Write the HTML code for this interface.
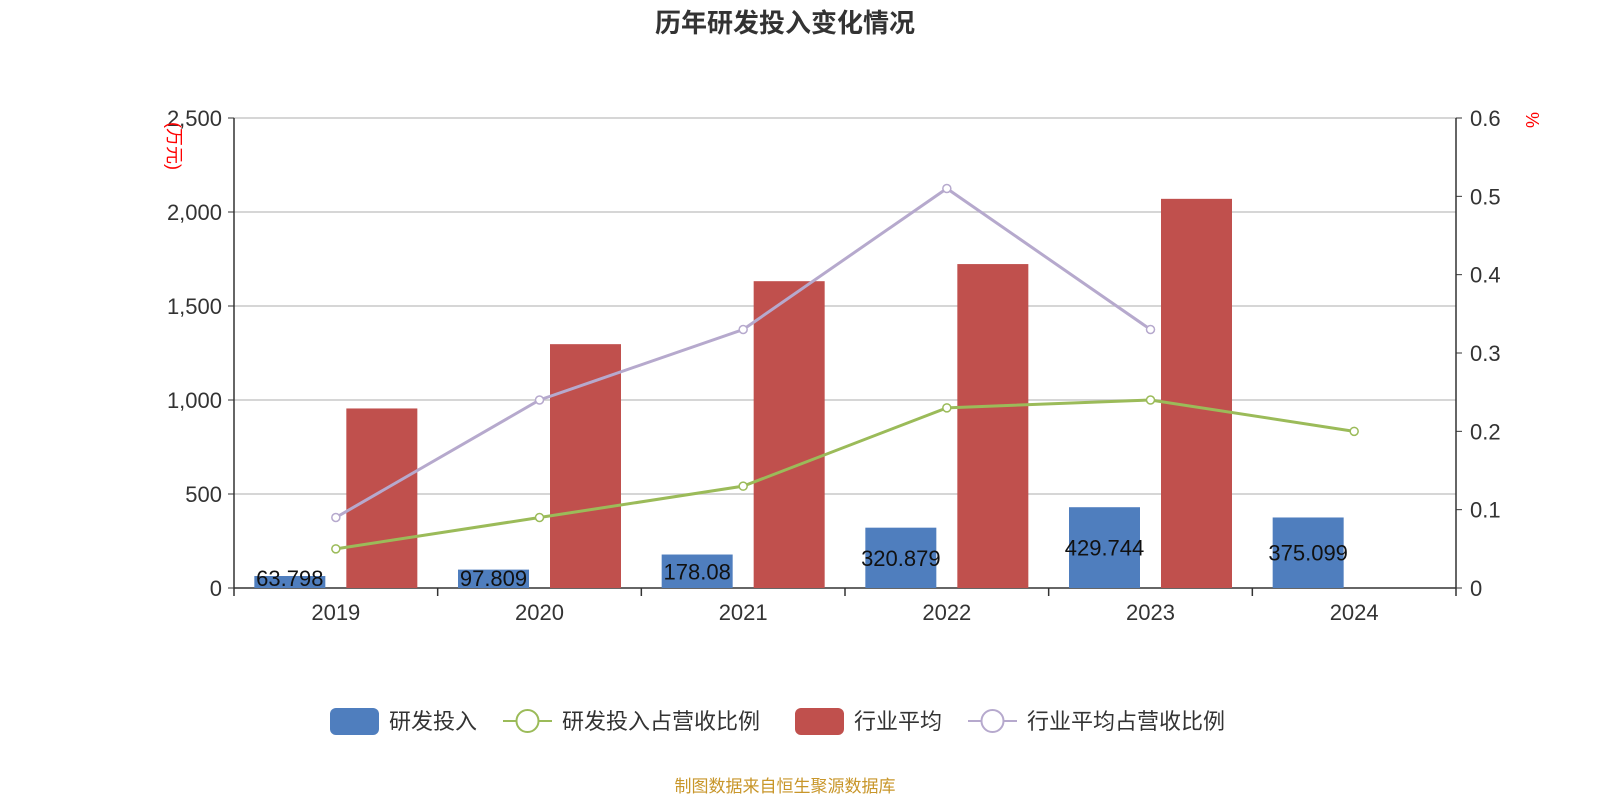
<!DOCTYPE html>
<html><head><meta charset="utf-8"><style>
body{margin:0;background:#fff;}
svg{display:block;font-family:"Liberation Sans","Noto Sans CJK SC",sans-serif;}
</style></head><body>
<svg id="c" width="1600" height="800">
<text x="785" y="32" text-anchor="middle" font-size="26" font-weight="bold" fill="#333">历年研发投入变化情况</text>
<text x="785" y="792" text-anchor="middle" font-size="17" fill="#c8962a">制图数据来自恒生聚源数据库</text>
<g id="axes"></g><g id="marks"></g><g id="legend"></g>
</svg>
<script>
const categories=["2019","2020","2021","2022","2023","2024"];
const rdValues=[63.798,97.809,178.08,320.879,429.744,375.099];
const industryAvg=[955,1297,1632,1723,2070,null];
const rdRatio=[0.05,0.09,0.13,0.23,0.24,0.20];
const industryRatio=[0.09,0.24,0.33,0.51,0.33,null];
const leftTicks=[0,500,1000,1500,2000,2500];
const rightTicks=[0,0.1,0.2,0.3,0.4,0.5,0.6];
const NS="http://www.w3.org/2000/svg";
const X0=234,X1=1456,Y0=588,Y1=118;
const bw=(X1-X0)/categories.length;
const xc=i=>X0+bw*(i+0.5);
const yL=v=>Y0-(v/2500)*(Y0-Y1);
const yR=v=>Y0-(v/0.6)*(Y0-Y1);
function mk(tag,attrs,parent,text){const e=document.createElementNS(NS,tag);for(const k in attrs)e.setAttribute(k,attrs[k]);if(text!=null)e.textContent=text;parent.appendChild(e);return e;}
const axes=document.getElementById('axes'),marks=document.getElementById('marks'),leg=document.getElementById('legend');
leftTicks.forEach(t=>{const y=yL(t);
 if(t>0){const g=mk('line',{x1:X0,x2:X1,y1:y,y2:y,stroke:'#c8c8c8','stroke-width':1.5},axes);
 
 }
 const l=mk('text',{x:X0-12,y:y+8,'text-anchor':'end','font-size':22,fill:'#333'},axes,t.toLocaleString('en-US'));
 
 
 mk('line',{x1:X0-6,x2:X0,y1:y,y2:y,stroke:'#333'},axes);
});
rightTicks.forEach(t=>{const y=yR(t);
 const l=mk('text',{x:X1+14,y:y+8,'font-size':22,fill:'#333'},axes,String(+t.toFixed(1)));
 
 
 mk('line',{x1:X1,x2:X1+6,y1:y,y2:y,stroke:'#333'},axes);
});
mk('line',{x1:X0,x2:X0,y1:Y1,y2:Y0,stroke:'#333','stroke-width':1.5},axes);
mk('line',{x1:X1,x2:X1,y1:Y1,y2:Y0,stroke:'#333','stroke-width':1.5},axes);
mk('line',{x1:X0,x2:X1,y1:Y0,y2:Y0,stroke:'#333','stroke-width':1.5},axes);
for(let i=0;i<=categories.length;i++){mk('line',{x1:X0+bw*i,x2:X0+bw*i,y1:Y0,y2:Y0+8,stroke:'#333','stroke-width':1.5},axes);}
categories.forEach((c,i)=>{const l=mk('text',{x:xc(i),y:Y0+32,'text-anchor':'middle','font-size':22,fill:'#333'},axes,c);
 
 });
const yt=mk('text',{x:0,y:0,'font-size':18,fill:'red',transform:'translate(168,122) rotate(90)'},axes,'(万元)');


const yt2=mk('text',{x:0,y:0,'font-size':18,fill:'red',transform:'translate(1526,112) rotate(90)'},axes,'%');


const BW=71;
categories.forEach((c,i)=>{
 const v=rdValues[i];const b=mk('rect',{x:xc(i)-46-BW/2,y:yL(v),width:BW,height:Y0-yL(v),fill:'#4f7ebe'},marks);
 
 
 if(industryAvg[i]!=null){const r=mk('rect',{x:xc(i)+46-BW/2,y:yL(industryAvg[i]),width:BW,height:Y0-yL(industryAvg[i]),fill:'#c0504d'},marks);
 
 }
});
function line(vals,color,name){const pts=[];vals.forEach((v,i)=>{if(v!=null)pts.push([xc(i),yR(v)]);});
 const p=mk('polyline',{points:pts.map(p=>p.join(',')).join(' '),fill:'none',stroke:color,'stroke-width':3},marks);
 
 
 pts.forEach(q=>{const c=mk('circle',{cx:q[0],cy:q[1],r:4,fill:'#fff',stroke:color,'stroke-width':1.5},marks);
 
 });}
line(industryRatio,'#b6a9cd','industry-ratio');
line(rdRatio,'#9bbb59','rd-ratio');
categories.forEach((c,i)=>{const v=rdValues[i];const t=mk('text',{x:xc(i)-46,y:Math.min((yL(v)+Y0)/2+8,Y0-2),'text-anchor':'middle','font-size':22,fill:'#111'},marks,String(v));
 
 });
const L=[[330,'bar','#4f7ebe','研发投入'],[503,'line','#9bbb59','研发投入占营收比例'],[795,'bar','#c0504d','行业平均'],[968,'line','#b6a9cd','行业平均占营收比例']];
L.forEach(([x,t,col,lab])=>{const g=mk('g',{},leg);
 
 
 if(t==='bar')mk('rect',{x:x,y:708,width:49,height:27,rx:6,fill:col},g);
 else{mk('line',{x1:x,x2:x+49,y1:721,y2:721,stroke:col,'stroke-width':2},g);mk('circle',{cx:x+24.5,cy:721,r:11,fill:'#fff',stroke:col,'stroke-width':2},g);}
 mk('text',{x:x+59,y:729,'font-size':22,fill:'#333'},g,lab);});
</script>
</body></html>
